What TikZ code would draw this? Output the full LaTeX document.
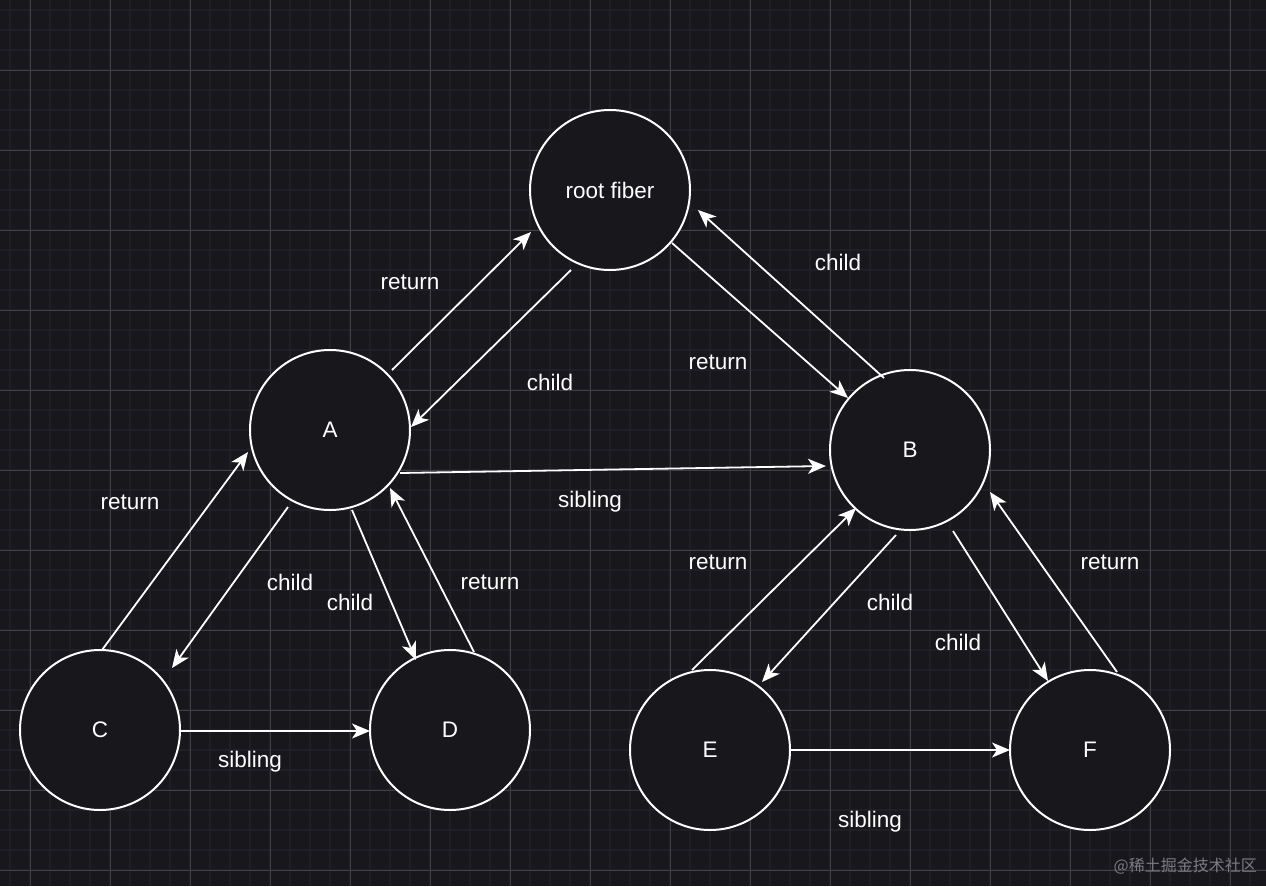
\documentclass[tikz,border=0pt]{standalone}
\usepackage{fontspec}
\setmainfont{Liberation Sans}
\newfontfamily\cjk{Noto Sans CJK SC}
\usetikzlibrary{arrows.meta}
\definecolor{bg}{HTML}{18171C}
\definecolor{gridminor}{HTML}{201F25}
\definecolor{gridmajor}{HTML}{403F46}
\definecolor{wm}{HTML}{7C7B82}
\tikzset{
  fiber/.style={circle, draw=white, line width=2pt, fill=bg, minimum size=160pt, inner sep=0pt, outer sep=0pt, text=white, font=\fontsize{22.5}{26}\selectfont},
  arr/.style={draw=white, line width=1.8pt, -{Stealth[length=18pt,width=15pt,inset=5pt]}},
  lbl/.style={text=white, font=\fontsize{22.5}{26}\selectfont, inner sep=0pt}
}
\begin{document}
\begin{tikzpicture}[x=1pt,y=-1pt]
\useasboundingbox (0,0) rectangle (1266,886);
\fill[bg] (0,0) rectangle (1266,886);
% grid
\foreach \i in {0,...,63} {\draw[gridminor, line width=1.2pt] ({10+20*\i},0) -- ({10+20*\i},886);}
\foreach \i in {0,...,44} {\draw[gridminor, line width=1.2pt] (0,{10+20*\i}) -- (1266,{10+20*\i});}
\foreach \i in {0,...,15} {\draw[gridmajor, line width=0.9pt] ({30+80*\i},0) -- ({30+80*\i},886);}
\foreach \i in {0,...,10} {\draw[gridmajor, line width=0.9pt] (0,{70+80*\i}) -- (1266,{70+80*\i});}
% nodes
\node[fiber] (R) at (610,190) {root fiber};
\node[fiber] (A) at (330,430) {A};
\node[fiber] (B) at (910,450) {B};
\node[fiber] (C) at (100,730) {C};
\node[fiber] (D) at (450,730) {D};
\node[fiber] (E) at (710,750) {E};
\node[fiber] (F) at (1090,750) {F};
% connectors
\draw[arr] ([shift={(62,-60)}]A.center) -- ([shift={(-79,42)}]R.center);
\draw[arr] ([shift={(-39,80)}]R.center) -- ([shift={(81,-3)}]A.center);
\draw[arr] ([shift={(62,53)}]R.center) -- ([shift={(-62,-52)}]B.center);
\draw[arr] ([shift={(-26,-72)}]B.center) -- ([shift={(88,20)}]R.center);
\draw[arr] ([shift={(70,43)}]A.center) -- ([shift={(-84,16)}]B.center);
\draw[arr] ([shift={(2,-80)}]C.center) -- ([shift={(-82,22)}]A.center);
\draw[arr] ([shift={(-42,77)}]A.center) -- ([shift={(72,-62)}]C.center);
\draw[arr] ([shift={(22,80)}]A.center) -- ([shift={(-34,-70)}]D.center);
\draw[arr] ([shift={(24,-78)}]D.center) -- ([shift={(60,58)}]A.center);
\draw[arr] ([shift={(80,1)}]C.center) -- ([shift={(-80,1)}]D.center);
\draw[arr] ([shift={(-18,-80)}]E.center) -- ([shift={(-54,58)}]B.center);
\draw[arr] ([shift={(-14,85)}]B.center) -- ([shift={(52,-68)}]E.center);
\draw[arr] ([shift={(43,81)}]B.center) -- ([shift={(-42,-69)}]F.center);
\draw[arr] ([shift={(27,-78)}]F.center) -- ([shift={(80,42)}]B.center);
\draw[arr] ([shift={(80,0)}]E.center) -- ([shift={(-80,0)}]F.center);
% labels
\node[lbl] (l1) at (410,282) {return};
\node[lbl] (l2) at (550,382) {child};
\node[lbl] (l3) at (718,362) {return};
\node[lbl] (l4) at (838,262) {child};
\node[lbl] (l5) at (590,502) {sibling};
\node[lbl] (l6) at (130,502) {return};
\node[lbl] (l7) at (290,582) {child};
\node[lbl] (l8) at (350,602) {child};
\node[lbl] (l9) at (490,582) {return};
\node[lbl] (l10) at (250,762) {sibling};
\node[lbl] (l11) at (718,562) {return};
\node[lbl] (l12) at (890,602) {child};
\node[lbl] (l13) at (958,642) {child};
\node[lbl] (l14) at (1110,562) {return};
\node[lbl] (l15) at (870,822) {sibling};
% watermark
\node[text=wm, font=\cjk\fontsize{16}{18}\selectfont, inner sep=0pt, anchor=east] (wm) at (1257,866) {@稀土掘金技术社区};
\end{tikzpicture}
\end{document}
